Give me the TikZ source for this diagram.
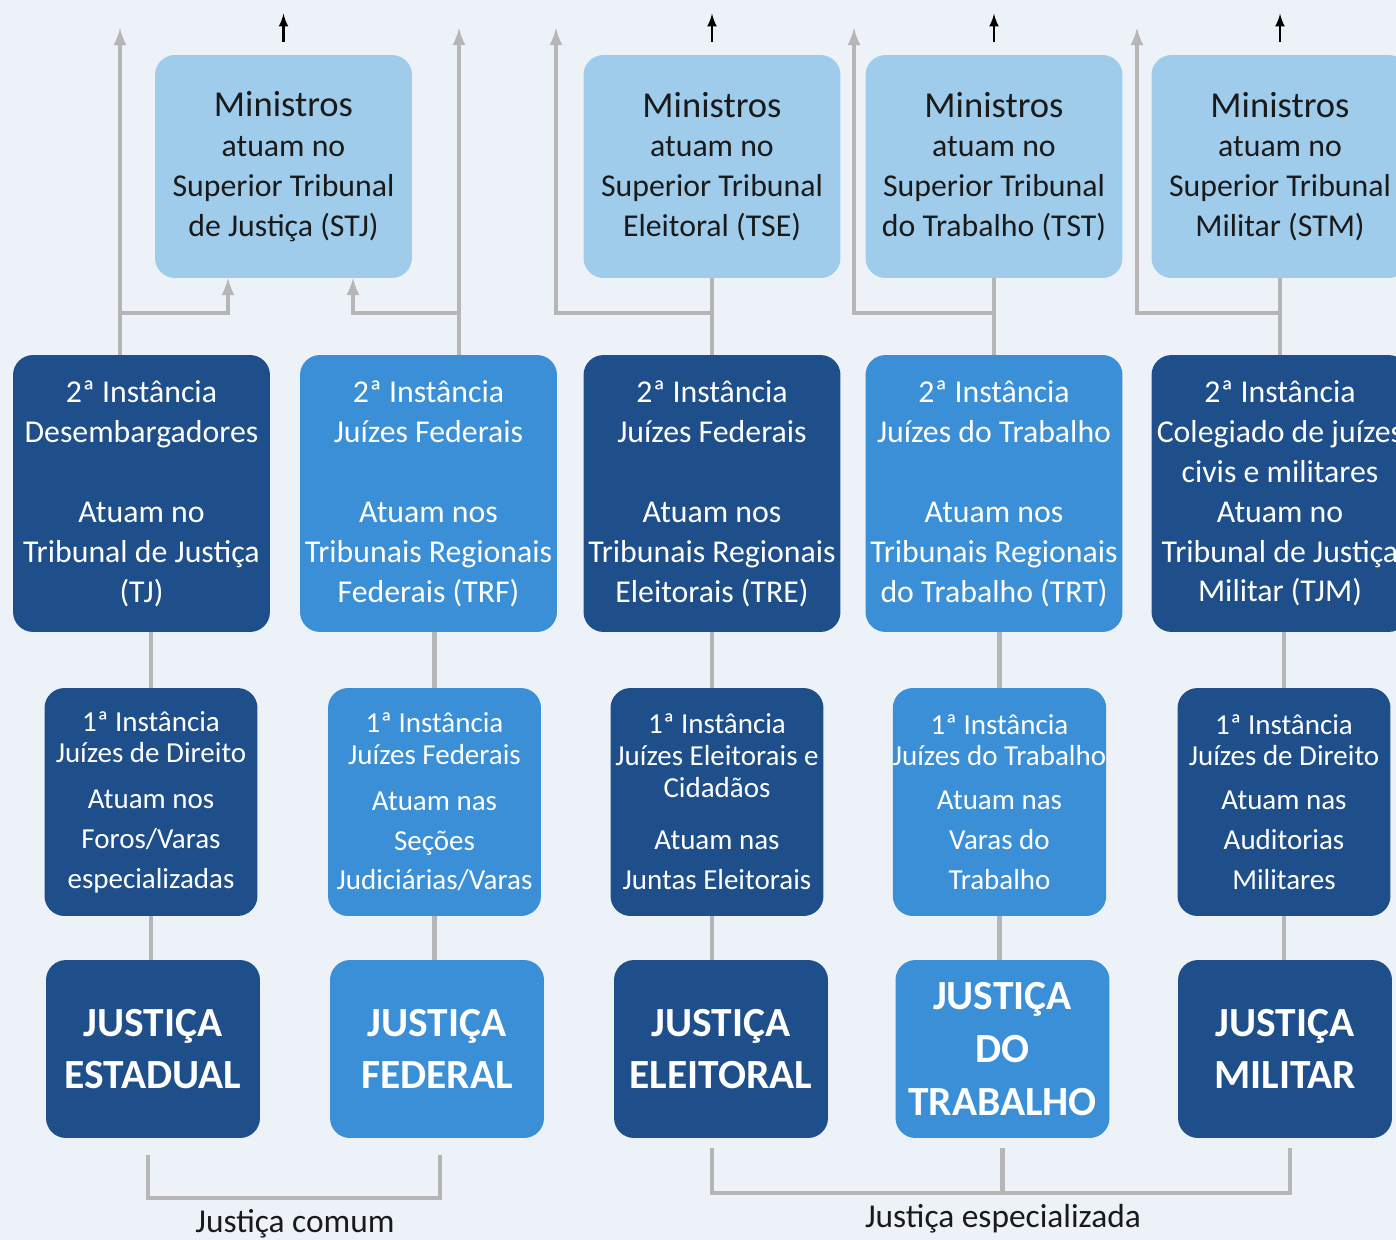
\documentclass[tikz,border=0pt]{standalone}
\usepackage{fontspec}
\setmainfont{Carlito}

\definecolor{bgblue}{RGB}{236,242,248}
\definecolor{darkbox}{RGB}{31,79,139}
\definecolor{midbox}{RGB}{58,143,214}
\definecolor{lightbox}{RGB}{160,204,236}
\definecolor{linegray}{RGB}{182,182,182}
\definecolor{inktext}{RGB}{26,26,26}

\tikzset{
  box/.style={rounded corners=0.4cm, align=center, inner sep=0pt},
  topbox/.style={box, fill=lightbox, text=inktext, minimum width=5.14cm, minimum height=4.46cm, font=\fontsize{18.1}{22.7}\selectfont},
  tribunal/.style={box, text=white, minimum width=5.14cm, minimum height=5.54cm, font=\fontsize{18.1}{22.7}\selectfont},
  vara/.style={box, text=white, minimum width=4.26cm, minimum height=4.56cm, font=\fontsize{16.5}{18.1}\selectfont},
  ramo/.style={box, text=white, minimum width=4.28cm, minimum height=3.56cm, font=\fontsize{23.6}{30}\selectfont\bfseries},
  groupname/.style={text=inktext, font=\fontsize{19}{22}\selectfont},
  gline/.style={draw=linegray, line width=2.3pt},
  arrow/.style={gline, -latex},
  toparrow/.style={-latex, line width=1.5pt, black}}

\begin{document}
\begin{tikzpicture}[x=0.02cm, y=-0.02cm]
    \fill[bgblue] (0,0) rectangle (1396,1240);
    \useasboundingbox (0,0) rectangle (1396,1240);

    \node[topbox] (stj) at (283.5,166.5) {{\fontsize{20.8}{24}\selectfont Ministros}\\atuam no\\Superior Tribunal\\de Justiça (STJ)};
    \node[topbox] (tse) at (712,166.5) {{\fontsize{20.8}{24}\selectfont Ministros}\\atuam no\\Superior Tribunal\\Eleitoral (TSE)};
    \node[topbox] (tst) at (994,166.5) {{\fontsize{20.8}{24}\selectfont Ministros}\\atuam no\\Superior Tribunal\\do Trabalho (TST)};
    \node[topbox] (stm) at (1280,166.5) {{\fontsize{20.8}{24}\selectfont Ministros}\\atuam no\\Superior Tribunal\\Militar (STM)};

    \node[tribunal, fill=darkbox] (tj) at (141.5,493.5) {2ª Instância\\Desembargadores\\[23pt]Atuam no\\Tribunal de Justiça\\(TJ)};
    \node[tribunal, fill=midbox] (trf) at (428.5,493.5) {2ª Instância\\Juízes Federais\\[23pt]Atuam nos\\Tribunais Regionais\\Federais (TRF)};
    \node[tribunal, fill=darkbox] (tre) at (712,493.5) {2ª Instância\\Juízes Federais\\[23pt]Atuam nos\\Tribunais Regionais\\Eleitorais (TRE)};
    \node[tribunal, fill=midbox] (trt) at (994,493.5) {2ª Instância\\Juízes do Trabalho\\[23pt]Atuam nos\\Tribunais Regionais\\do Trabalho (TRT)};
    \node[tribunal, fill=darkbox] (tjm) at (1280,493.5) {2ª Instância\\Colegiado de juízes\\civis e militares\\Atuam no\\Tribunal de Justiça\\Militar (TJM)};

    \node[vara, fill=darkbox] (estI) at (151,802) {1ª Instância\\Juízes de Direito\\[7.9pt]Atuam nos\\[4.6pt]Foros/Varas\\[4.6pt]especializadas};
    \node[vara, fill=midbox] (fedI) at (434.5,802) {1ª Instância\\Juízes Federais\\[7.9pt]Atuam nas\\[4.6pt]Seções\\[4.6pt]Judiciárias/Varas};
    \node[vara, fill=darkbox] (eleI) at (717,802) {1ª Instância\\Juízes Eleitorais e\\Cidadãos\\[11.4pt]Atuam nas\\[5pt]Juntas Eleitorais};
    \node[vara, fill=midbox] (trabI) at (999.5,802) {1ª Instância\\Juízes do Trabalho\\[6.9pt]Atuam nas\\[4.6pt]Varas do\\[4.6pt]Trabalho};
    \node[vara, fill=darkbox] (milI) at (1284,802) {1ª Instância\\Juízes de Direito\\[6.9pt]Atuam nas\\[4.6pt]Auditorias\\[4.6pt]Militares};

    \node[ramo, fill=darkbox] (est) at (153,1049) {JUSTIÇA\\ESTADUAL};
    \node[ramo, fill=midbox] (fed) at (437,1049) {JUSTIÇA\\FEDERAL};
    \node[ramo, fill=darkbox] (ele) at (721,1049) {JUSTIÇA\\ELEITORAL};
    \node[ramo, fill=midbox] (trab) at (1002.5,1049) {JUSTIÇA\\DO\\TRABALHO};
    \node[ramo, fill=darkbox] (mil) at (1285,1049) {JUSTIÇA\\MILITAR};

    \coordinate (tjtop) at (120,28);
    \coordinate (trftop) at (459,28);
    \coordinate (tsetop) at (556,28);
    \coordinate (tsttop) at (854,28);
    \coordinate (stmtop) at (1137,28);
    \coordinate (fork) at (0,313);
    \coordinate (stjin1) at (228,278);
    \coordinate (stjin2) at (353,278);

    \draw[arrow] (tj.north -| tjtop) -- (tjtop);
    \draw[arrow] (tjtop |- fork) -| (stjin1);
    \draw[arrow] (trf.north -| trftop) -- (trftop);
    \draw[arrow] (trftop |- fork) -| (stjin2);
    \draw[gline] (tse.south) -- (tre.north);
    \draw[arrow] (tse.south |- fork) -| (tsetop);
    \draw[gline] (tst.south) -- (tst.south |- trt.north);
    \draw[arrow] (tst.south |- fork) -| (tsttop);
    \draw[gline] (stm.south) -- (tjm.north);
    \draw[arrow] (stm.south |- fork) -| (stmtop);

    \draw[toparrow] ([yshift=0.26cm]stj.north) -- ++(0,-28);
    \draw[toparrow] ([yshift=0.26cm]tse.north) -- ++(0,-28);
    \draw[toparrow] ([yshift=0.26cm]tst.north) -- ++(0,-28);
    \draw[toparrow] ([yshift=0.26cm]stm.north) -- ++(0,-28);

    \draw[gline] (estI.north) -- (estI.north |- tj.south);
    \draw[gline] (fedI.north) -- (fedI.north |- trf.south);
    \draw[gline] (tre.south) -- (tre.south |- eleI.north);
    \draw[gline] (trabI.north) -- (trabI.north |- trt.south);
    \draw[gline] (milI.north) -- (milI.north |- tjm.south);

    \draw[gline] (estI.south) -- (estI.south |- est.north);
    \draw[gline] (fedI.south) -- (fedI.south |- fed.north);
    \draw[gline] (eleI.south -| tre) -- (ele.north -| tre);
    \draw[gline] (trabI.south) -- (trabI.south |- trab.north);
    \draw[gline] (milI.south) -- (milI.south |- mil.north);

    \draw[gline] ([xshift=-0.1cm, yshift=-0.34cm]est.south) -- ++(0,43) -| ([xshift=0.06cm, yshift=-0.34cm]fed.south);
    \node[groupname] (comum) at (295,1224) {Justiça comum};
    \draw[gline] ([xshift=-0.18cm, yshift=-0.2cm]ele.south) -- ++(0,45) -| ([xshift=0.1cm, yshift=-0.2cm]mil.south);
    \draw[gline] ([yshift=-0.2cm]trab.south) -- ++(0,45);
    \node[groupname] (espec) at (1003,1219) {Justiça especializada};
\end{tikzpicture}
\end{document}
